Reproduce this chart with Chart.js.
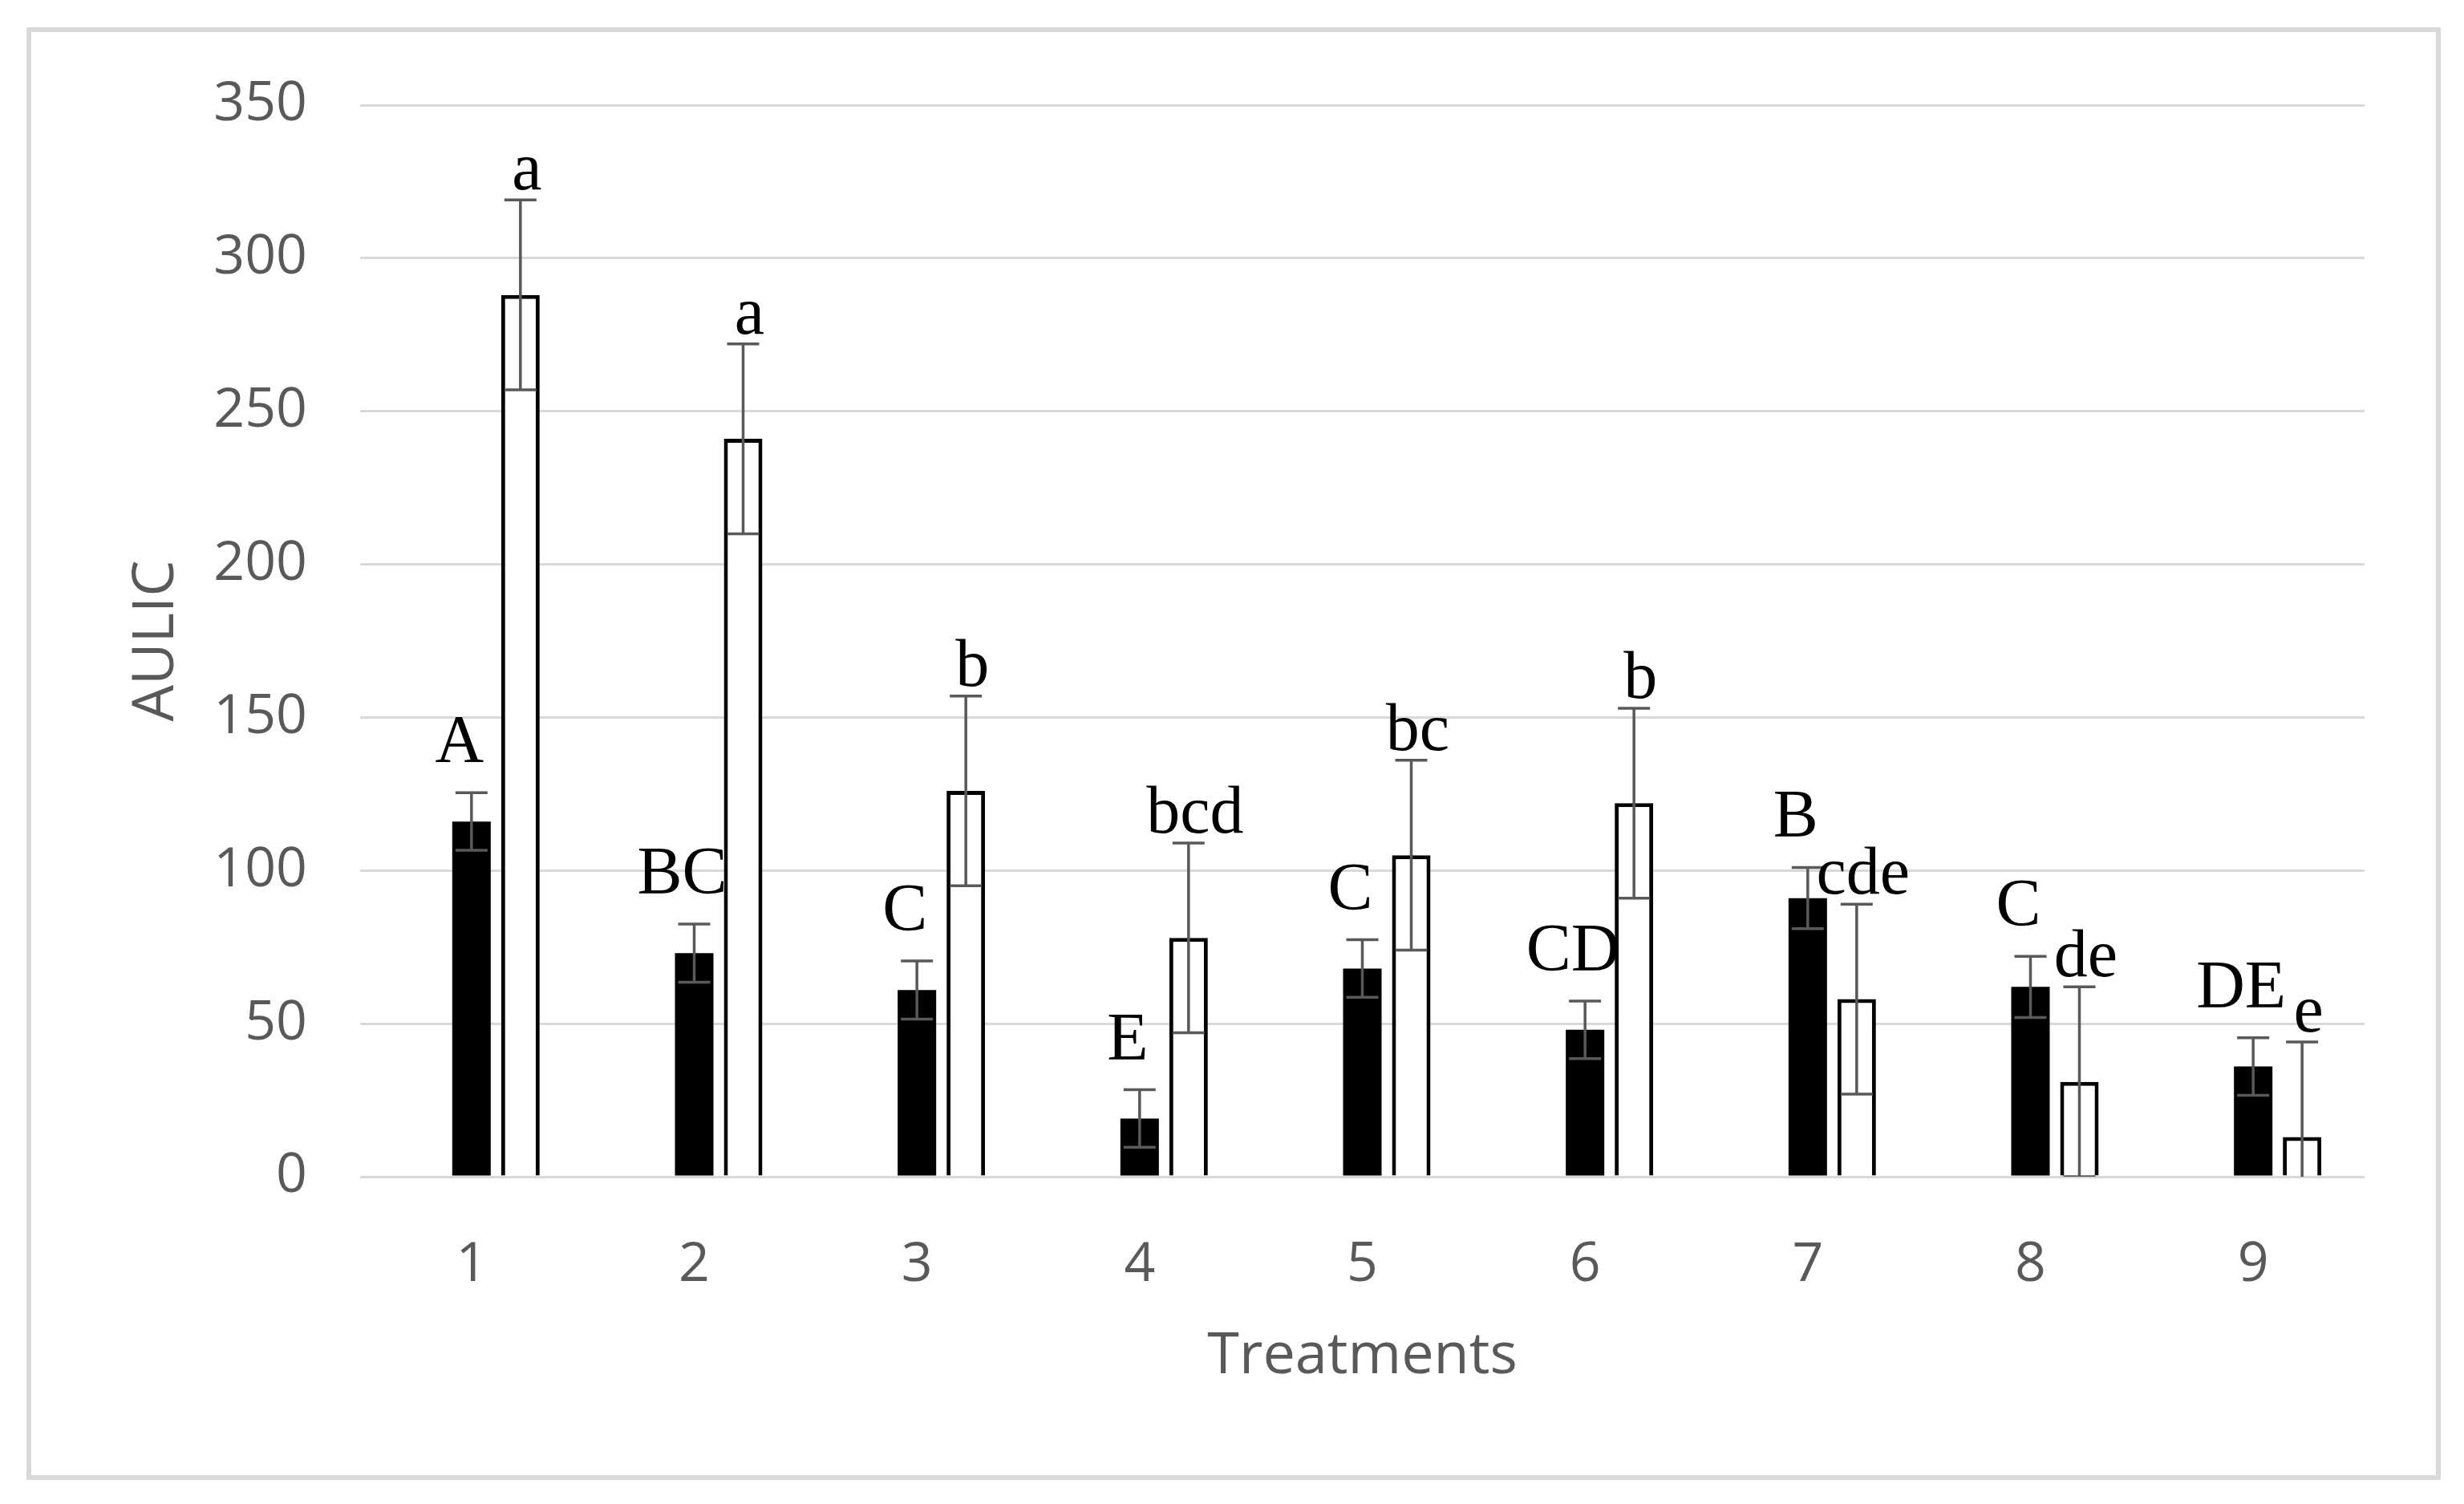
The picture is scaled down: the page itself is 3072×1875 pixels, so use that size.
<!DOCTYPE html>
<html>
<head>
<meta charset="utf-8">
<script src="https://cdn.jsdelivr.net/npm/chart.js@4.4.1/dist/chart.umd.min.js"></script>
<style>
body { margin: 0; background: #fff; }
#chart { display: block; }
</style>
</head>
<body>
<canvas id="chart" width="3072" height="1875"></canvas>
<script>
// data
var treatments = ['1', '2', '3', '4', '5', '6', '7', '8', '9'];
var blackVals = [116, 73, 61, 19, 68, 48, 91, 62, 36];
var blackErr = [9.4, 9.5, 9.5, 9.4, 9.4, 9.4, 10, 10, 9.4];
var whiteVals = [288, 241, 126, 78, 105, 122, 58, 31, 13];
var whiteErr = [31, 31, 31, 31, 31, 31, 31, 31, 31];
var blackLetters = ['A', 'BC', 'C', 'E', 'C', 'CD', 'B', 'C', 'DE'];
var whiteLetters = ['a', 'a', 'b', 'bcd', 'bc', 'b', 'cde', 'de', 'e'];
var yTicks = [0, 50, 100, 150, 200, 250, 300, 350];

var GREY = '#595959';

/* white page + light grey frame */
var frame = {
  id: 'frame',
  beforeDraw: function(chart) {
    var ctx = chart.ctx;
    ctx.save();
    ctx.fillStyle = '#fff';
    ctx.fillRect(0, 0, chart.width, chart.height);
    ctx.strokeStyle = '#d9d9d9';
    ctx.lineWidth = 6;
    ctx.strokeRect(36, 37, 3004, 1805);
    ctx.restore();
  }
};

/* error bars + significance letters */
var errorBars = {
  id: 'errorBars',
  afterDatasetsDraw: function(chart) {
    var ctx = chart.ctx;
    var y = chart.scales.y;
    var area = chart.chartArea;
    var sets = [
      {idx: 1, err: blackErr, letters: blackLetters, dx: -15, gap: 38},
      {idx: 2, err: whiteErr, letters: whiteLetters, dx: 8, gap: 13}
    ];
    sets.forEach(function(s) {
      var meta = chart.getDatasetMeta(s.idx);
      var vals = chart.data.datasets[s.idx].data;
      meta.data.forEach(function(bar, i) {
        var top = y.getPixelForValue(vals[i] + s.err[i]);
        var bot = y.getPixelForValue(vals[i] - s.err[i]);
        ctx.save();
        ctx.beginPath();
        ctx.rect(0, 0, chart.width, area.bottom);
        ctx.clip();
        ctx.strokeStyle = GREY;
        ctx.lineWidth = 3.5;
        ctx.beginPath();
        ctx.moveTo(bar.x, top);
        ctx.lineTo(bar.x, bot);
        ctx.moveTo(bar.x - 20, top);
        ctx.lineTo(bar.x + 20, top);
        ctx.moveTo(bar.x - 20, bot);
        ctx.lineTo(bar.x + 20, bot);
        ctx.stroke();
        ctx.restore();

        ctx.save();
        ctx.fillStyle = '#000';
        ctx.font = '84px "Liberation Serif", "Times New Roman", serif';
        ctx.textAlign = 'center';
        ctx.textBaseline = 'alphabetic';
        ctx.fillText(s.letters[i], bar.x + s.dx, top - s.gap);
        ctx.restore();
      });
    });
  }
};

var ctx = document.getElementById('chart').getContext('2d');
var chart = new Chart(ctx, {
  type: 'bar',
  data: {
    labels: treatments,
    datasets: [
      {
        // empty slot, keeps the black bar centred on the tick like the original
        data: treatments.map(function() { return null; }),
        backgroundColor: 'rgba(0,0,0,0)'
      },
      {
        data: blackVals,
        backgroundColor: '#000',
        borderWidth: 0
      },
      {
        data: whiteVals,
        backgroundColor: '#fff',
        borderColor: '#000',
        borderWidth: 5
      }
    ]
  },
  options: {
    responsive: false,
    animation: false,
    devicePixelRatio: 1,
    categoryPercentage: 0.659,
    barPercentage: 0.787,
    layout: {
      padding: {left: 0, right: 124, top: 131, bottom: 108}
    },
    plugins: {
      legend: {display: false},
      tooltip: {enabled: false}
    },
    scales: {
      x: {
        grid: {display: false},
        border: {display: false},
        ticks: {
          color: GREY,
          font: {family: '"Open Sans", sans-serif', size: 68},
          padding: 62
        },
        title: {
          display: true,
          text: 'Treatments',
          color: GREY,
          font: {family: '"Open Sans", sans-serif', size: 72},
          padding: {top: 0, bottom: 32}
        },
        afterFit: function(scale) { scale.height = 300; }
      },
      y: {
        min: 0,
        max: 350,
        afterBuildTicks: function(scale) {
          scale.ticks = yTicks.map(function(v) { return {value: v}; });
        },
        grid: {color: '#d9d9d9', lineWidth: 3, drawTicks: false},
        border: {display: false},
        ticks: {
          color: GREY,
          font: {family: '"Open Sans", sans-serif', size: 68},
          padding: 66
        },
        title: {
          display: true,
          text: 'AULIC',
          color: GREY,
          font: {family: '"Open Sans", sans-serif', size: 72},
          padding: {top: 152, bottom: 0}
        },
        afterFit: function(scale) { scale.width = 449; }
      }
    }
  },
  plugins: [frame, errorBars]
});
</script>
</body>
</html>
